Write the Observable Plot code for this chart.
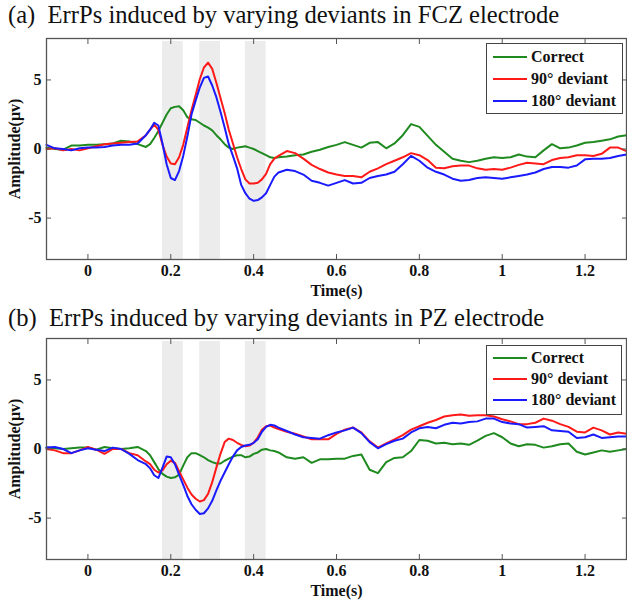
<!DOCTYPE html>
<html>
<head>
<meta charset="utf-8">
<script src="https://cdn.jsdelivr.net/npm/d3@7"></script>
<script src="https://cdn.jsdelivr.net/npm/@observablehq/plot@0.6"></script>
<style>
  body { margin: 0; background: #fff; }
  #wrap { position: relative; width: 627px; height: 601px; overflow: hidden;
          font-family: "Liberation Serif", "Times New Roman", serif; color: #111; }
  .title { position: absolute; left: 8px; font-size: 24.6px; line-height: 24px; white-space: pre; }
  .panel { position: absolute; left: 0; }
  .legend { position: absolute; border: 1px solid #444; background: #fff; box-sizing: border-box;
            font-weight: bold; font-size: 16px; }
  .row { position: absolute; left: 0; right: 0; height: 0; }
  .sw { position: absolute; left: 6px; width: 34px; height: 2px; top: -1px; }
  .lt { position: absolute; left: 44px; top: -9px; line-height: 18px; white-space: nowrap; }
</style>
</head>
<body>
<div id="wrap">
  <div class="title" id="titleA" style="top:3px"></div>
  <div class="panel" id="panelA" style="top:30px"></div>
  <div class="legend" id="legA" style="left:486px; top:43px; width:137px; height:71px"></div>
  <div class="title" id="titleB" style="top:306px"></div>
  <div class="panel" id="panelB" style="top:330px"></div>
  <div class="legend" id="legB" style="left:486px; top:345px; width:136px; height:70px"></div>
</div>
<script>
// ---- data ----
const titles = ["(a)  ErrPs induced by varying deviants in FCZ electrode",
                "(b)  ErrPs induced by varying deviants in PZ electrode"];
const seriesNames = ["Correct", "90° deviant", "180° deviant"];
const seriesColors = ["#1f8a1f", "#ff1a1a", "#1a1aff"];
const xTicks = [0, 0.2, 0.4, 0.6, 0.8, 1, 1.2];
const yTicks = [-5, 0, 5];
const bandStarts = [0.18, 0.27, 0.38];
const bandEnds = [0.23, 0.32, 0.43];

const times = [-0.10,-0.08,-0.06,-0.04,-0.02,0.00,0.02,0.04,0.06,0.08,0.10,0.12,0.14,
  0.15,0.16,0.17,0.18,0.19,0.20,0.21,0.22,0.23,0.24,0.25,0.26,0.27,0.28,0.29,0.30,0.31,0.32,0.33,0.34,0.35,0.36,0.37,0.38,0.39,0.40,0.41,0.42,0.43,0.44,0.45,0.46,
  0.48,0.50,0.52,0.54,0.56,0.58,0.60,0.62,0.64,0.66,0.68,0.70,0.72,0.74,0.76,0.78,0.80,0.82,0.84,0.86,0.88,0.90,0.92,0.94,0.96,0.98,1.00,1.02,1.04,1.06,1.08,1.10,1.12,1.14,1.16,1.18,1.20,1.22,1.24,1.26,1.28,1.30];

const fczCorrect = [0.1,0.0,-0.05,0.25,0.25,0.3,0.3,0.35,0.4,0.6,0.55,0.35,0.15,
  0.35,0.8,1.3,1.9,2.5,2.95,3.05,3.1,2.8,2.3,2.15,2.1,1.9,1.7,1.55,1.35,1.0,0.7,0.35,0.1,0.0,0.1,0.15,0.2,0.1,0.0,-0.15,-0.3,-0.45,-0.6,-0.65,-0.6,
  -0.55,-0.45,-0.4,-0.2,-0.05,0.15,0.3,0.5,0.3,0.1,0.45,0.5,0.05,0.4,1.0,1.8,1.6,0.95,0.3,-0.2,-0.7,-0.85,-0.95,-0.85,-0.7,-0.6,-0.65,-0.6,-0.4,-0.55,-0.6,-0.1,0.35,0.05,0.1,0.25,0.45,0.5,0.6,0.7,0.9,1.0];
const fcz90 = [0.0,0.05,-0.1,0.0,-0.1,0.05,0.2,0.35,0.4,0.45,0.5,0.55,1.0,
  1.4,1.75,1.4,0.3,-0.55,-1.05,-1.1,-0.6,0.3,1.55,2.8,3.9,5.05,5.9,6.25,5.8,4.8,3.7,2.6,1.4,0.4,-0.6,-1.45,-2.2,-2.5,-2.5,-2.45,-2.2,-1.8,-1.1,-0.7,-0.5,
  -0.15,-0.3,-0.7,-1.15,-1.45,-1.7,-1.85,-1.95,-1.95,-2.05,-1.65,-1.4,-1.1,-0.85,-0.6,-0.3,-0.45,-0.8,-1.35,-1.4,-1.25,-1.2,-1.2,-1.4,-1.5,-1.45,-1.5,-1.35,-1.15,-1.0,-1.05,-1.1,-0.8,-0.65,-0.6,-0.45,-0.45,-0.5,-0.35,0.1,0.1,-0.15];
const fcz180 = [0.3,0.05,0.0,-0.1,0.05,0.1,0.1,0.15,0.25,0.3,0.3,0.4,1.0,
  1.4,1.9,1.7,0.4,-1.1,-2.1,-2.25,-1.6,-0.5,0.9,2.5,3.5,4.45,5.15,5.25,4.6,3.75,2.7,1.55,0.35,-0.5,-1.4,-2.6,-3.2,-3.6,-3.75,-3.7,-3.5,-3.2,-2.6,-2.0,-1.7,
  -1.5,-1.6,-1.85,-2.3,-2.45,-2.65,-2.45,-2.25,-2.5,-2.45,-2.1,-1.95,-1.85,-1.65,-1.1,-0.5,-0.85,-1.35,-1.65,-1.85,-2.15,-2.3,-2.25,-2.1,-2.05,-2.1,-2.15,-2.05,-1.95,-1.85,-1.7,-1.45,-1.3,-1.3,-1.35,-1.2,-0.75,-0.7,-0.7,-0.65,-0.5,-0.4];

const pzCorrect = [0.1,0.05,0.0,0.05,0.1,0.1,-0.05,0.15,0.05,0.0,0.05,0.15,-0.15,
  -0.45,-0.95,-1.45,-1.8,-2.0,-2.1,-2.05,-1.85,-1.2,-0.6,-0.3,-0.3,-0.45,-0.6,-0.8,-0.95,-1.05,-1.05,-0.85,-0.7,-0.55,-0.45,-0.45,-0.6,-0.55,-0.35,-0.25,-0.05,0.0,-0.1,-0.15,-0.25,
  -0.6,-0.7,-0.6,-1.0,-0.75,-0.75,-0.7,-0.7,-0.5,-0.4,-1.5,-1.75,-0.95,-0.65,-0.6,-0.15,0.65,0.6,0.4,0.45,0.35,0.4,0.3,0.6,0.95,1.15,0.85,0.4,0.2,0.35,0.3,0.1,0.2,0.35,0.4,-0.2,-0.4,-0.25,-0.1,-0.2,-0.1,0.0];
const pz90 = [0.0,-0.1,-0.3,-0.3,-0.1,0.15,-0.05,-0.35,0.0,0.0,-0.3,-0.45,-0.9,
  -1.1,-1.5,-1.7,-1.55,-1.1,-0.85,-1.0,-1.6,-2.2,-2.8,-3.3,-3.6,-3.8,-3.7,-3.25,-2.4,-1.35,-0.35,0.5,0.75,0.65,0.45,0.3,0.2,0.25,0.45,0.85,1.4,1.65,1.7,1.55,1.45,
  1.25,1.1,0.9,0.7,0.7,0.7,1.1,1.4,1.55,1.2,0.55,0.1,0.4,0.7,1.0,1.4,1.65,1.9,2.1,2.35,2.45,2.5,2.4,2.45,2.45,2.35,2.15,2.0,1.8,1.8,1.9,2.2,2.05,1.8,1.6,1.25,1.2,1.55,1.35,1.05,1.2,1.1];
const pz180 = [0.1,0.15,0.0,-0.3,-0.1,0.05,-0.05,-0.15,0.1,0.0,-0.35,-0.8,-1.1,
  -1.4,-1.9,-2.1,-1.35,-0.55,-0.6,-1.1,-1.85,-2.6,-3.4,-4.0,-4.4,-4.7,-4.65,-4.3,-3.75,-3.0,-2.3,-1.7,-1.1,-0.55,-0.1,0.15,0.25,0.3,0.45,0.7,1.25,1.6,1.75,1.7,1.55,
  1.3,1.05,0.85,0.8,0.75,1.0,1.2,1.35,1.55,1.15,0.5,0.05,0.35,0.6,0.75,1.2,1.5,1.6,1.5,1.75,1.9,1.85,1.95,2.0,2.2,2.2,1.95,1.85,1.8,1.55,1.6,1.65,1.35,1.3,1.25,0.8,0.85,1.05,0.8,0.85,0.9,0.9];

// ---- drawing ----
const axisColor = "#555";
function makePlot(series, height) {
  const rows = [];
  series.forEach((vals, k) => {
    times.forEach((t, i) => rows.push({t, v: vals[i], s: seriesNames[k]}));
  });
  const bands = bandStarts.map((a, i) => ({x1: a, x2: bandEnds[i]}));
  return Plot.plot({
    width: 627, height,
    marginLeft: 46, marginRight: 1, marginTop: 8, marginBottom: height - 8 - 221,
    x: {domain: [-0.1, 1.3]},
    y: {domain: [-8, 8]},
    color: {domain: seriesNames, range: seriesColors},
    style: {fontFamily: '"Liberation Serif", "Times New Roman", serif', fontWeight: "bold",
            fontSize: "16px", color: "#111", background: "transparent"},
    marks: [
      Plot.rect(bands, {x1: "x1", x2: "x2", fill: "#ececec", insetTop: 3}),
      Plot.line(rows, {x: "t", y: "v", z: "s", stroke: "s", strokeWidth: 2}),
      Plot.frame({stroke: axisColor, strokeWidth: 1.3}),
      Plot.axisX({ticks: xTicks, tickSize: 0, tickPadding: 5, tickFormat: d => String(d),
                  label: "Time(s)", labelAnchor: "center", labelOffset: 36, labelArrow: "none"}),
      Plot.axisX({ticks: xTicks, anchor: "bottom", tickSize: -5, stroke: axisColor, tickFormat: () => "", label: null}),
      Plot.axisX({ticks: xTicks, anchor: "top", tickSize: -5, stroke: axisColor, tickFormat: () => "", label: null}),
      Plot.axisY({ticks: yTicks, tickSize: 0, tickPadding: 5, tickFormat: d => String(d),
                  label: "Amplitude(μv)", labelAnchor: "center", labelOffset: 38, labelArrow: "none"}),
      Plot.axisY({ticks: yTicks, anchor: "left", tickSize: -5, stroke: axisColor, tickFormat: () => "", label: null}),
      Plot.axisY({ticks: yTicks, anchor: "right", tickSize: -5, stroke: axisColor, tickFormat: () => "", label: null})
    ]
  });
}

function makeLegend(el, rowTops) {
  seriesNames.forEach((name, k) => {
    const r = document.createElement("div");
    r.className = "row";
    r.style.top = rowTops[k] + "px";
    const sw = document.createElement("div");
    sw.className = "sw";
    sw.style.background = seriesColors[k];
    const tx = document.createElement("div");
    tx.className = "lt";
    tx.textContent = name;
    r.appendChild(sw); r.appendChild(tx);
    el.appendChild(r);
  });
}

document.getElementById("titleA").textContent = titles[0];
document.getElementById("titleB").textContent = titles[1];
document.getElementById("panelA").appendChild(makePlot([fczCorrect, fcz90, fcz180], 270));
document.getElementById("panelB").appendChild(makePlot([pzCorrect, pz90, pz180], 271));
makeLegend(document.getElementById("legA"), [13, 35, 57]);
makeLegend(document.getElementById("legB"), [12, 33, 54]);
</script>
</body>
</html>
